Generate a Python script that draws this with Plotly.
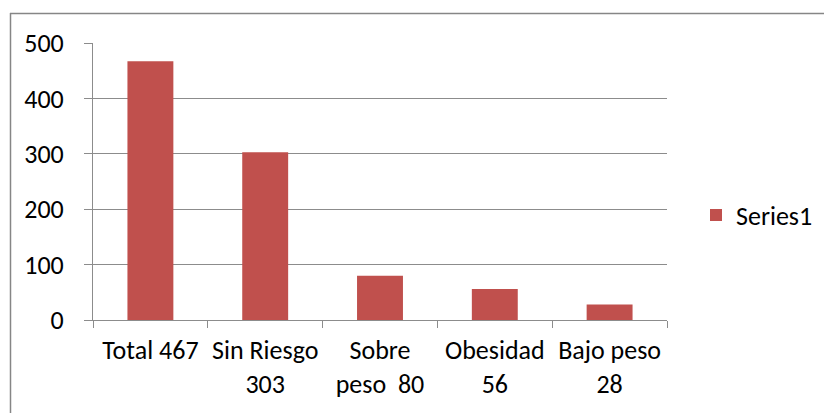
import plotly.graph_objects as go

categories = ["Total 467", "Sin Riesgo<br>303", "Sobre<br>peso  80", "Obesidad<br>56", "Bajo peso<br>28"]
values = [467, 303, 80, 56, 28]
series_name = "Series1"
y_ticks = [0, 100, 200, 300, 400, 500]

L, R, T, B = 93, 667, 43, 320
W, H = 824, 413
pw, ph = R - L, B - T

def px_x(p):
    return (p - L) / pw

def px_y(p):
    return (B - p) / ph

fig = go.Figure()
fig.add_trace(go.Bar(
    x=categories, y=values, name=series_name,
    marker=dict(color="#C0504D", line=dict(width=0)),
    showlegend=True,
))

grid = "#8C8C8C"
font = dict(family="Carlito, Lato, Calibri, sans-serif", size=26, color="#000000")

fig.update_layout(
    width=W, height=H,
    margin=dict(l=L, r=W - R, t=T, b=H - B, pad=0, autoexpand=False),
    paper_bgcolor="white", plot_bgcolor="white",
    font=font,
    bargap=0.6,
    showlegend=True,
    legend=dict(x=px_x(696), y=px_y(215), xanchor="left", yanchor="middle",
                font=font, bgcolor="rgba(0,0,0,0)", itemwidth=30,
                tracegroupgap=0),
    xaxis=dict(showgrid=False, showline=True, linecolor=grid, linewidth=1,
               ticks="outside", ticklen=7, tickcolor=grid, tickson="boundaries",
               tickfont=font, mirror=False, ticklabelstandoff=7,
               tickangle=0, automargin=False),
    yaxis=dict(range=[0, 500], tickvals=y_ticks, showgrid=True, gridcolor=grid,
               gridwidth=1, showline=True, linecolor=grid, linewidth=1,
               ticks="outside", ticklen=8, tickcolor=grid, tickfont=font,
               zeroline=False, ticklabelstandoff=15, automargin=False),
)

# chart area border (top and left visible)
fig.add_shape(type="line", xref="paper", yref="paper",
              x0=px_x(10), x1=px_x(824), y0=px_y(13.5), y1=px_y(13.5),
              line=dict(color="#868686", width=1.5))
fig.add_shape(type="line", xref="paper", yref="paper",
              x0=px_x(10.5), x1=px_x(10.5), y0=px_y(13), y1=px_y(413),
              line=dict(color="#868686", width=1.5))

fig.write_html("out.html", config={"displayModeBar": False},
               post_script="document.body.style.margin='0';")
